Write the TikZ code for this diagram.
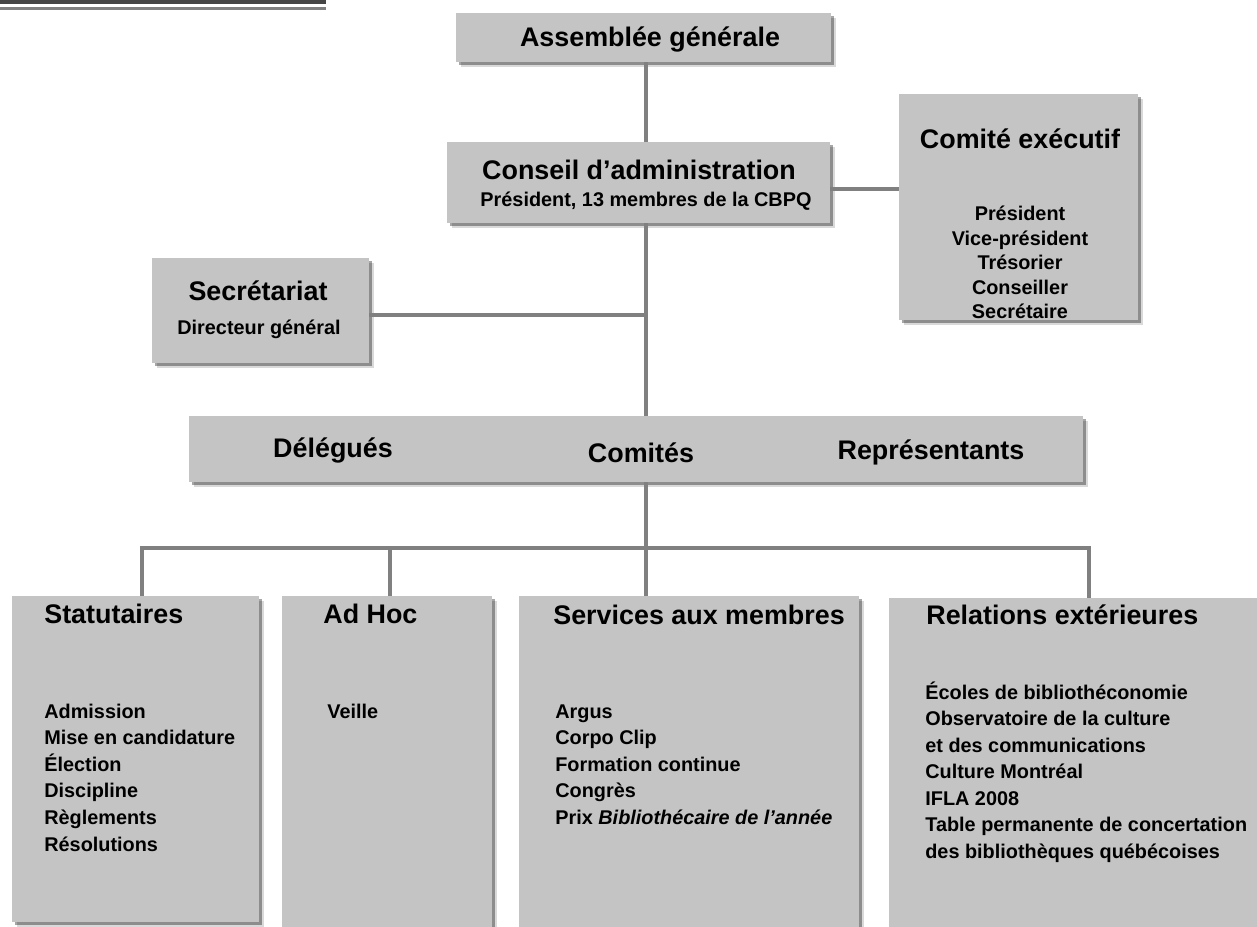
\documentclass[tikz,border=0pt]{standalone}
\usepackage{fontspec}
\setmainfont{Liberation Sans}
\usepackage{xcolor}
\usepackage{tikz}
\usetikzlibrary{shadows}
\definecolor{boxgray}{HTML}{C4C4C4}
\definecolor{linegray}{HTML}{808080}
\definecolor{bandgray}{HTML}{454545}

\begin{document}
\begin{tikzpicture}[x=0.02cm, y=-0.02cm,
  box/.style={fill=boxgray, inner sep=0,
    drop shadow={shadow xshift=0.1cm, shadow yshift=-0.1cm, fill=black, opacity=0.15},
    drop shadow={shadow xshift=0.06cm, shadow yshift=-0.06cm, fill=black, opacity=0.35}},
  conn/.style={draw=linegray, line width=2.2pt},
  ttl/.style={font=\fontsize{15.3}{18}\selectfont\bfseries, inner sep=0},
  itm/.style={font=\fontsize{11.3}{14}\selectfont\bfseries, inner sep=0}]
\useasboundingbox (0,0) rectangle (1257,926);

\fill[bandgray] (0,0) rectangle (326,4.5);
\fill[linegray] (0,7.5) rectangle (326,10);

\node[box, minimum width=7.5cm, minimum height=0.98cm] (ag) at (643.5,37.5) {};
\node[box, minimum width=7.66cm, minimum height=1.62cm] (ca) at (638.5,182.5) {};
\node[box, minimum width=4.78cm, minimum height=4.52cm] (ce) at (1018.5,207) {};
\node[box, minimum width=4.34cm, minimum height=2.1cm] (sec) at (260.5,310.5) {};
\node[box, minimum width=17.88cm, minimum height=1.32cm] (bar) at (636,449) {};
\node[box, minimum width=4.94cm, minimum height=6.52cm] (stat) at (135.5,759) {};
\node[box, minimum width=4.2cm, minimum height=6.88cm] (adhoc) at (387,768) {};
\node[box, minimum width=6.8cm, minimum height=6.88cm] (serv) at (689,768) {};
\node[box, minimum width=7.62cm, minimum height=6.84cm] (rel) at (1079.5,769) {};

\node[ttl, anchor=base] (agt) at (650,47) {Assemblée générale};
\node[ttl, anchor=base] (cat) at (639,179) {Conseil d’administration};
\node[itm, anchor=base] (cas) at (646,206.5) {Président, 13 membres de la CBPQ};

\node[ttl, anchor=base] (cet) at (1020,149) {Comité exécutif};
\node[itm, anchor=base] (ce1) at (1020,220) {Président};
\node[itm, anchor=base] (ce2) at (1020,245) {Vice-président};
\node[itm, anchor=base] (ce3) at (1020,269) {Trésorier};
\node[itm, anchor=base] (ce4) at (1020,294) {Conseiller};
\node[itm, anchor=base] (ce5) at (1020,318) {Secrétaire};

\node[ttl, anchor=base] (sect) at (258,300) {Secrétariat};
\node[itm, anchor=base] (secs) at (259,334) {Directeur général};

\node[ttl, anchor=base] (del) at (333,457) {Délégués};
\node[ttl, anchor=base] (com) at (641,462) {Comités};
\node[ttl, anchor=base] (rep) at (931,459) {Représentants};

\node[ttl, anchor=base west] (statt) at (44,623) {Statutaires};
\node[itm, anchor=base west] (st1) at (44,718) {Admission};
\node[itm, anchor=base west] (st2) at (44,744.6) {Mise en candidature};
\node[itm, anchor=base west] (st3) at (44,771.2) {Élection};
\node[itm, anchor=base west] (st4) at (44,797.8) {Discipline};
\node[itm, anchor=base west] (st5) at (44,824.4) {Règlements};
\node[itm, anchor=base west] (st6) at (44,851) {Résolutions};

\node[ttl, anchor=base west] (adhoct) at (323,623) {Ad Hoc};
\node[itm, anchor=base west] (ah1) at (327,718) {Veille};

\node[ttl, anchor=base west] (servt) at (553,624) {Services aux membres};
\node[itm, anchor=base west] (sv1) at (555,718) {Argus};
\node[itm, anchor=base west] (sv2) at (555,744.6) {Corpo Clip};
\node[itm, anchor=base west] (sv3) at (555,771.2) {Formation continue};
\node[itm, anchor=base west] (sv4) at (555,797.8) {Congrès};
\node[itm, anchor=base west] (sv5) at (555,824.4) {Prix \textit{Bibliothécaire de l’année}};

\node[ttl, anchor=base west] (relt) at (926,624) {Relations extérieures};
\node[itm, anchor=base west] (re1) at (925,699) {Écoles de bibliothéconomie};
\node[itm, anchor=base west] (re2) at (925,725.5) {Observatoire de la culture};
\node[itm, anchor=base west] (re3) at (925,752) {et des communications};
\node[itm, anchor=base west] (re4) at (925,778.5) {Culture Montréal};
\node[itm, anchor=base west] (re5) at (925,805) {IFLA 2008};
\node[itm, anchor=base west] (re6) at (925,831.5) {Table permanente de concertation};
\node[itm, anchor=base west] (re7) at (925,858) {des bibliothèques québécoises};

\coordinate (trunk) at (646,0);
\coordinate (d1) at (142,548);
\coordinate (d2) at (390,548);
\coordinate (d3) at (646,548);
\coordinate (d4) at (1089,548);

\draw[conn] (ag.south -| trunk) -- (ca.north -| trunk);
\draw[conn] (ca.south -| trunk) -- (bar.north -| trunk);
\draw[conn] ([yshift=-0.13cm]ca.east) -- ([yshift=-0.13cm]ca.east -| ce.west);
\draw[conn] ([yshift=-0.09cm]sec.east) -- ([yshift=-0.09cm]sec.east -| trunk);
\draw[conn] (bar.south -| d3) -- (d3);
\draw[conn] (d1 |- stat.north) -- (d1) -- (d4) -- (d4 |- rel.north);
\draw[conn] (d2) -- (d2 |- adhoc.north);
\draw[conn] (d3) -- (d3 |- serv.north);
\end{tikzpicture}
\end{document}
